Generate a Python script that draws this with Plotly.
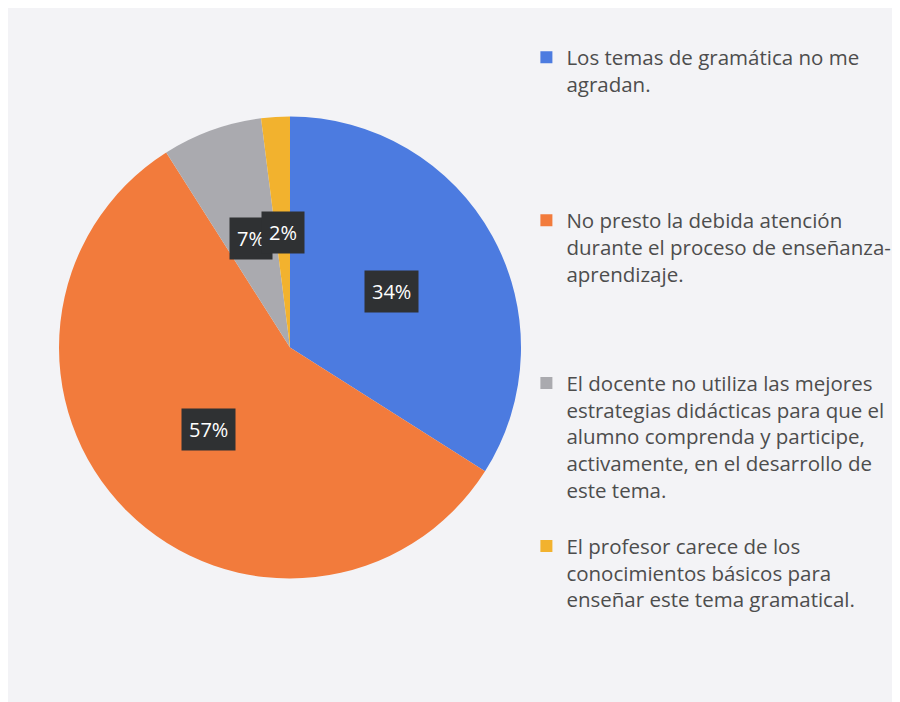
import math
import plotly.graph_objects as go

# data
labels = [
    "Los temas de gramática no me<br>agradan.",
    "No presto la debida atención<br>durante el proceso de enseñanza-<br>aprendizaje.",
    "El docente no utiliza las mejores<br>estrategias didácticas para que el<br>alumno comprenda y participe,<br>activamente, en el desarrollo de<br>este tema.",
    "El profesor carece de los<br>conocimientos básicos para<br>enseñar este tema gramatical.",
]
values = [34, 57, 7, 2]
pct_text = ["34%", "57%", "7%", "2%"]
colors = ["#4C7BE0", "#F27B3C", "#AAAAAF", "#F2B22E"]

# every legend entry takes the same height, like the Excel legend
n_lines = 6
legend_labels = []
for lab in labels:
    pad = n_lines - lab.count("<br>") - 1
    legend_labels.append(lab + "<br> " * pad)

# page body adds 8px, so the domain is shifted back by that
dom_x = [51 / 900, 513 / 900]
dom_y = [131 / 702, 594 / 702]

fig = go.Figure()
fig.add_trace(go.Pie(
    labels=legend_labels,
    values=values,
    marker=dict(colors=colors, line=dict(width=0)),
    sort=False,
    direction="clockwise",
    rotation=0,
    textinfo="none",
    hoverinfo="percent",
    domain=dict(x=dom_x, y=dom_y),
))

# dark data-label boxes, placed at half radius on each slice's middle angle
cx = (dom_x[0] + dom_x[1]) / 2
cy = (dom_y[0] + dom_y[1]) / 2
R = 231
total = sum(values)
cum = 0
annotations = []
for v, t in zip(values, pct_text):
    mid = (cum + v / 2) / total
    cum += v
    ang = math.radians(90 - mid * 360)
    annotations.append(dict(
        x=cx + 0.5 * R * math.cos(ang) / 900,
        y=cy + 0.5 * R * math.sin(ang) / 702,
        xref="paper", yref="paper",
        xanchor="center", yanchor="middle",
        text=t, showarrow=False,
        font=dict(family="Open Sans", size=20, color="white"),
        bgcolor="#2F3133", borderpad=7,
    ))

fig.update_layout(
    width=900, height=702,
    margin=dict(l=0, r=0, t=0, b=0),
    paper_bgcolor="#F3F3F6",
    font=dict(family="Open Sans", size=20.5, color="#4D4D4D"),
    showlegend=True,
    legend=dict(
        x=0.576, y=0.958, xanchor="left", yanchor="top",
        valign="top", bgcolor="rgba(0,0,0,0)",
        font=dict(family="Open Sans", size=20.5, color="#4D4D4D"),
    ),
    annotations=annotations,
)

fig.write_html("out.html")
